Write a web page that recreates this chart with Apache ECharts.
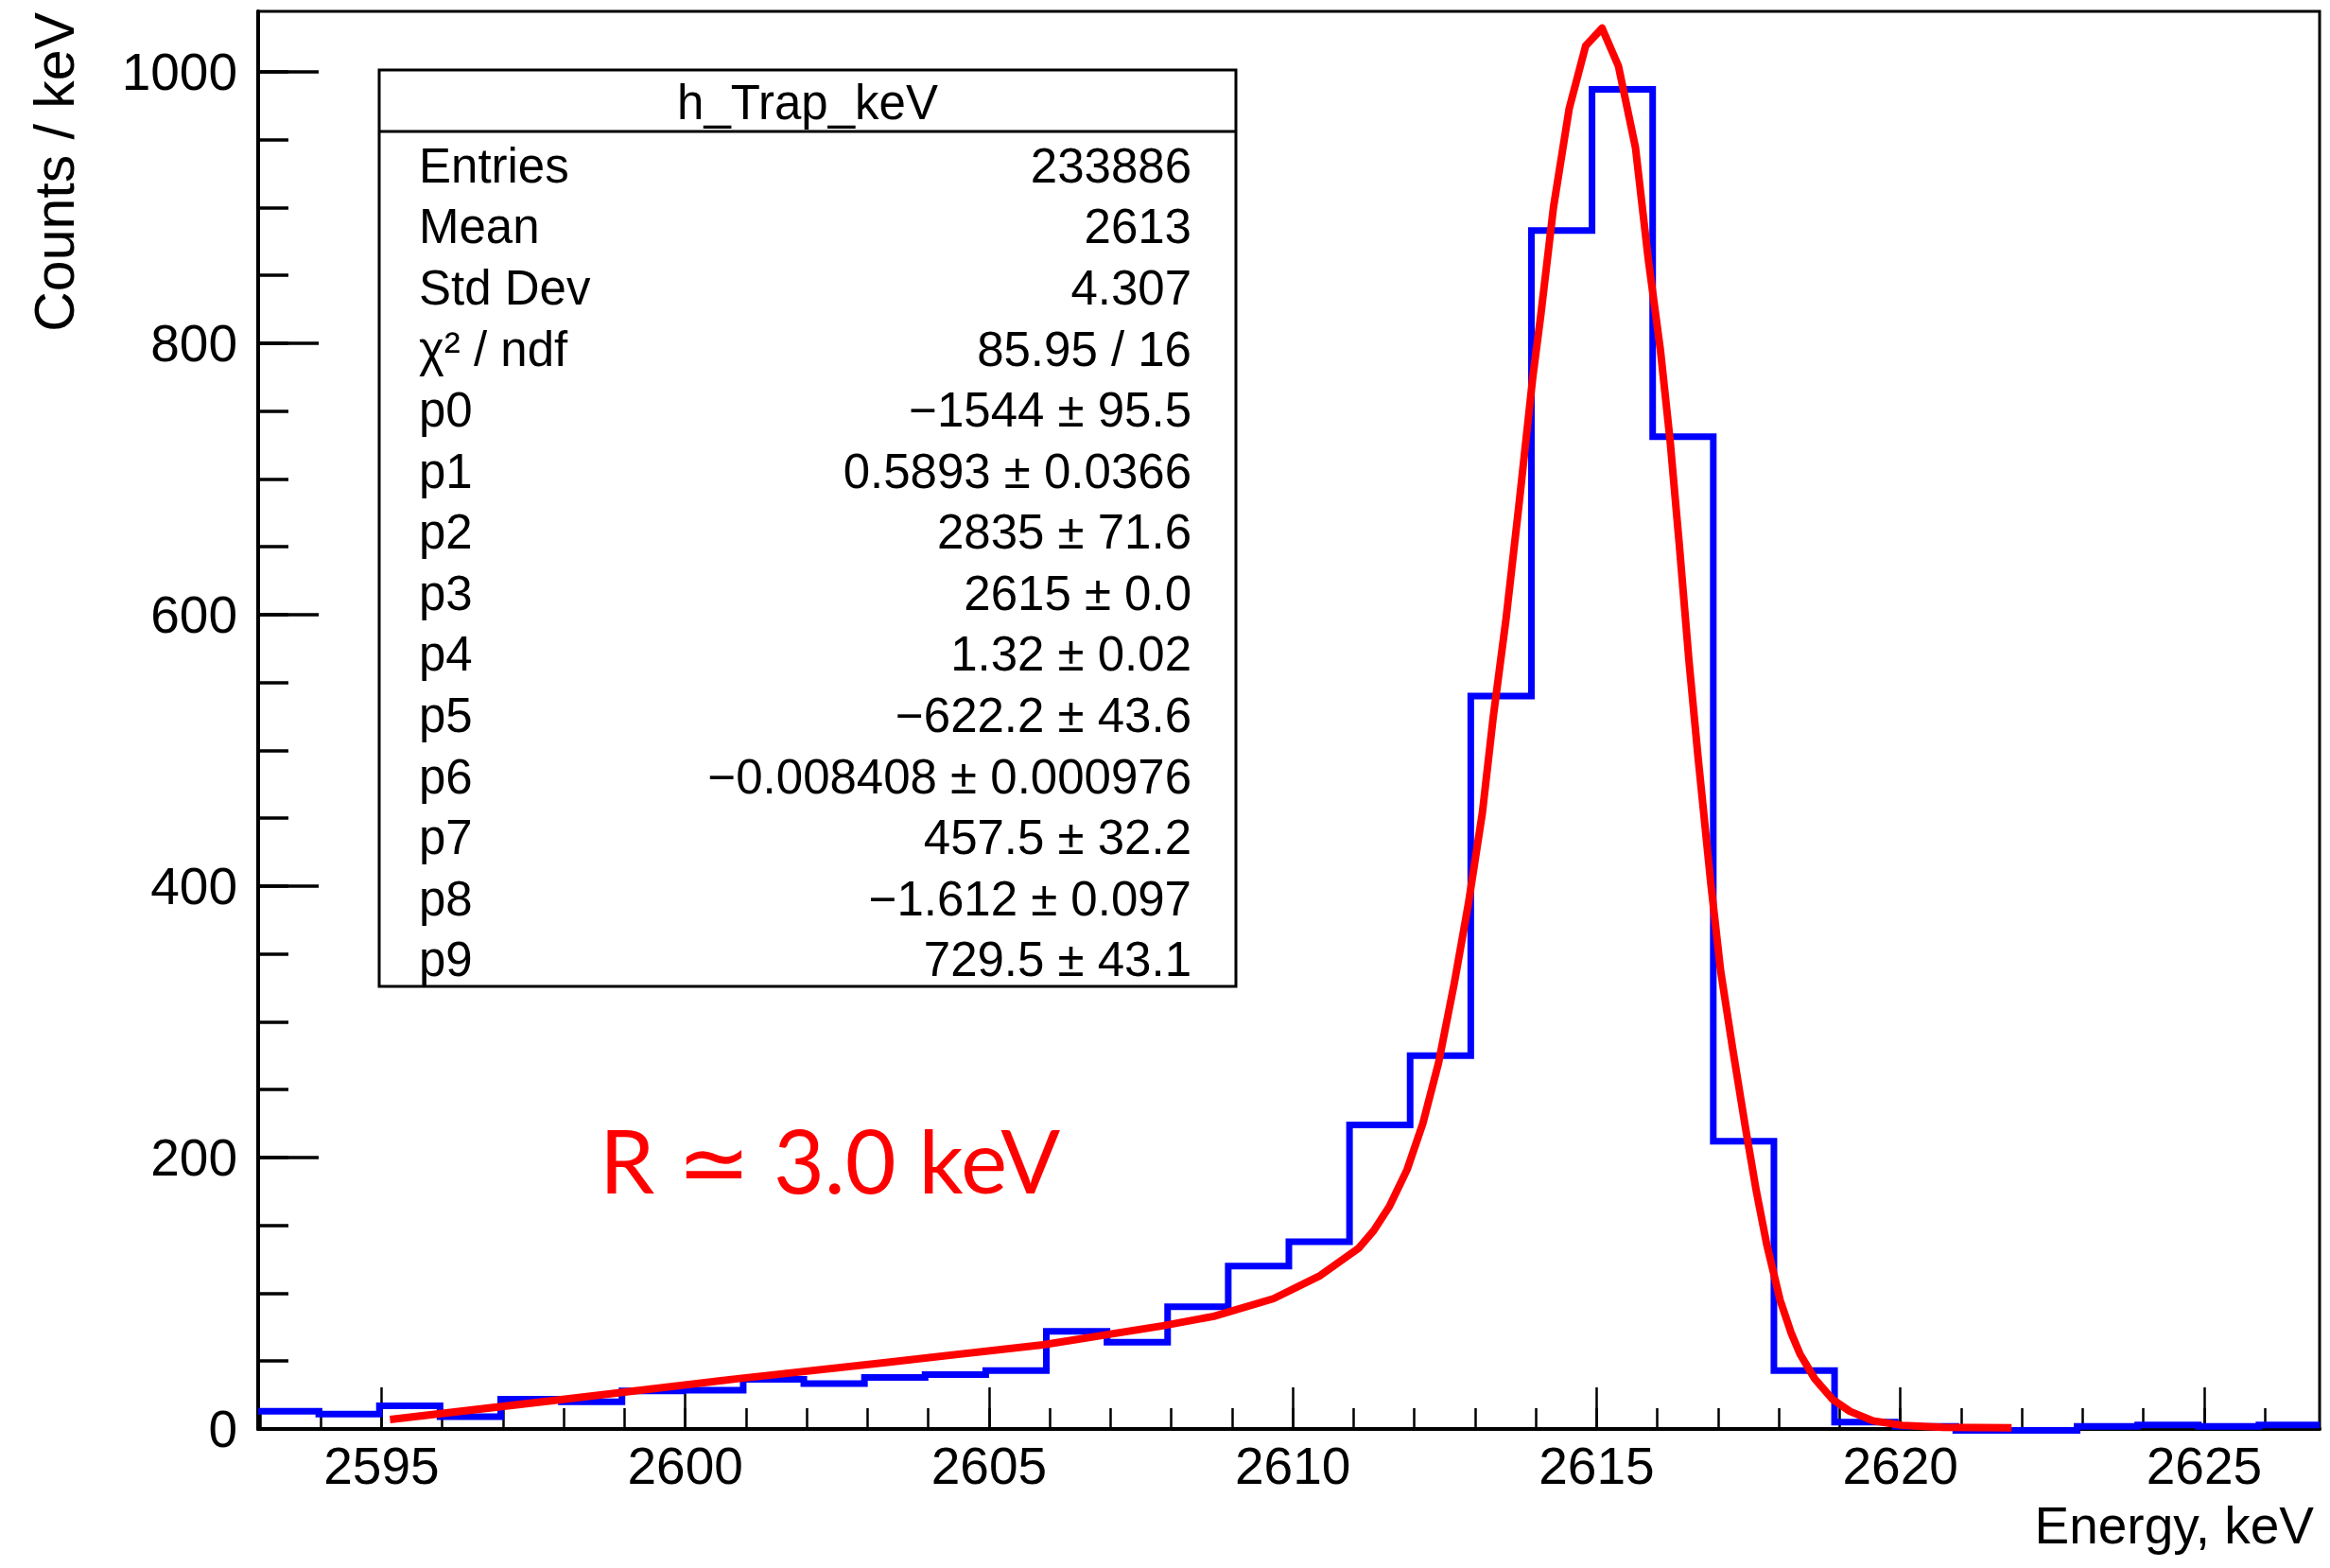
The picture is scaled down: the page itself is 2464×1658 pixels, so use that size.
<!DOCTYPE html>
<html>
<head>
<meta charset="utf-8">
<script src="https://cdn.jsdelivr.net/npm/echarts/dist/echarts.min.js"></script>
<style>
html,body{margin:0;padding:0;background:#fff;}
#chart{width:2464px;height:1658px;}
</style>
</head>
<body>
<div id="chart"></div>
<script>
// ---- data ----
const xRange = [2592.97, 2626.9];          // histogram / axis range, keV
const yRange = [0, 1044.4];                 // counts / keV
const binValues = [13, 11, 17, 9, 22, 20, 28, 28.5, 36.5, 33.5, 38, 40, 43, 72, 64, 90, 120, 138,
                   224, 275, 540, 883, 987, 731, 212, 43, 5, 2, -1, -1, 2, 3, 2, 3];
const fitX = [2595.14, 2597.95, 2600.86, 2603.3, 2605.89, 2607.86, 2608.7, 2609.68, 2610.45, 2611.08,
              2611.33, 2611.59, 2611.88, 2612.14, 2612.4, 2612.66, 2612.89, 2613.12, 2613.3, 2613.51,
              2613.72, 2613.95, 2614.08, 2614.29, 2614.55, 2614.82, 2615.09, 2615.36, 2615.64, 2615.85,
              2616.05, 2616.21, 2616.36, 2616.52, 2616.67, 2616.88, 2617.04, 2617.24, 2617.45, 2617.63,
              2617.8, 2618.02, 2618.2, 2618.35, 2618.59, 2618.88, 2619.17, 2619.55, 2620.03, 2620.7, 2621.83];
const fitY = [7, 21.6, 37, 49, 62, 76, 83, 96, 113, 133,
              146, 164, 191, 225, 270, 329, 387, 454, 525, 597,
              680, 775, 820, 900, 973, 1019, 1032, 1004, 944, 862,
              795, 728, 652, 566, 495, 402, 338, 280, 222, 175,
              136, 95, 71, 55, 37, 22, 13, 6, 2.7, 1.2, 0.8];
const xMajorTicks = [2595, 2600, 2605, 2610, 2615, 2620, 2625];
const xMinorTicks = [2593,2594,2595,2596,2597,2598,2599,2600,2601,2602,2603,2604,2605,2606,2607,2608,2609,
                     2610,2611,2612,2613,2614,2615,2616,2617,2618,2619,2620,2621,2622,2623,2624,2625,2626];
const yMajorTicks = [0, 200, 400, 600, 800, 1000];
const yMinorTicks = [0,50,100,150,200,250,300,350,400,450,500,550,600,650,700,750,800,850,900,950,1000];
const statsTitle = 'h_Trap_keV';
const statLabels = ['Entries','Mean','Std Dev','\u03c7\u00b2 / ndf','p0','p1','p2','p3','p4','p5','p6','p7','p8','p9'];
const statValues = ['233886','2613','4.307','85.95 / 16','\u22121544 \u00b1 95.5','0.5893 \u00b1 0.0366',
                    '2835 \u00b1 71.6','2615 \u00b1 0.0','1.32 \u00b1 0.02','\u2212622.2 \u00b1 43.6',
                    '\u22120.008408 \u00b1 0.000976','457.5 \u00b1 32.2','\u22121.612 \u00b1 0.097','729.5 \u00b1 43.1'];
const xTitle = 'Energy, keV';
const yTitle = 'Counts / keV';
const note = 'R \u2243 3.0 keV';

// ---- build series data ----
const nBins = binValues.length;
const binW = (xRange[1] - xRange[0]) / nBins;
const histData = binValues.map((v, i) => [xRange[0] + i * binW, v]);
histData.push([xRange[1], binValues[nBins - 1]]);
const fitData = fitX.map((x, i) => [x, fitY[i]]);

const FONT = "'Liberation Sans', Arial, Helvetica, sans-serif";
const fmt = v => String(v);

// stats box geometry
const box = {x: 401, y: 74, w: 906, h: 969, titleH: 65};
const rowH = (box.h - box.titleH) / statLabels.length;
const graphics = [];
graphics.push({type:'rect', z:10, shape:{x:box.x, y:box.y, width:box.w, height:box.h},
  style:{fill:'#fff', stroke:'#000', lineWidth:3}});
graphics.push({type:'line', z:11, shape:{x1:box.x, y1:box.y+box.titleH, x2:box.x+box.w, y2:box.y+box.titleH},
  style:{stroke:'#000', lineWidth:3}});
graphics.push({type:'text', z:11, x: box.x + box.w/2, y: box.y + box.titleH/2 + 2,
  style:{text:statsTitle, font:'51px ' + FONT, fill:'#000', align:'center', verticalAlign:'middle'}});
statLabels.forEach((lab, i) => {
  const yc = box.y + box.titleH + rowH * (i + 0.5) + 4;
  graphics.push({type:'text', z:11, x: box.x + 42, y: yc,
    style:{text:lab, font:'51px ' + FONT, fill:'#000', align:'left', verticalAlign:'middle'}});
  graphics.push({type:'text', z:11, x: box.x + box.w - 47, y: yc,
    style:{text:statValues[i], font:'51px ' + FONT, fill:'#000', align:'right', verticalAlign:'middle'}});
});
graphics.push({type:'text', z:11, x: 634, y: 1226,
  style:{text:note, font:"93px Lato, 'Open Sans', sans-serif", fill:'#ff0000', align:'left', verticalAlign:'middle'}});
graphics.push({type:'text', z:11, x: 2447, y: 1613,
  style:{text:xTitle, font:'55px ' + FONT, fill:'#000', align:'right', verticalAlign:'middle'}});
graphics.push({type:'text', z:11, x: 58, y: 13, rotation: Math.PI/2,
  style:{text:yTitle, font:'59px ' + FONT, fill:'#000', align:'right', verticalAlign:'middle'}});

const chart = echarts.init(document.getElementById('chart'), null, {renderer:'svg', width:2464, height:1658});
const axisLineStyle = {color:'#000', width:4};
chart.setOption({
  animation: false,
  backgroundColor: '#fff',
  grid: {left: 273, right: 11, top: 12, bottom: 147, show: true, borderColor: '#000', borderWidth: 3, backgroundColor: 'transparent'},
  xAxis: [
    {type:'value', min:xRange[0], max:xRange[1], position:'bottom',
     axisLine:{show:true, onZero:false, lineStyle:axisLineStyle},
     axisTick:{show:true, inside:true, length:44, customValues:xMajorTicks, lineStyle:{color:'#000', width:2.5}},
     axisLabel:{show:true, customValues:xMajorTicks, formatter:fmt, margin:11, fontSize:55, fontFamily:FONT, color:'#000'},
     splitLine:{show:false}},
    {type:'value', min:xRange[0], max:xRange[1], position:'bottom',
     axisLine:{show:false},
     axisTick:{show:true, inside:true, length:22, customValues:xMinorTicks, lineStyle:{color:'#000', width:2.5}},
     axisLabel:{show:false}, splitLine:{show:false}}
  ],
  yAxis: [
    {type:'value', min:yRange[0], max:yRange[1], position:'left',
     axisLine:{show:true, onZero:false, lineStyle:axisLineStyle},
     axisTick:{show:true, inside:true, length:64, customValues:yMajorTicks, lineStyle:{color:'#000', width:3.5}},
     axisLabel:{show:true, customValues:yMajorTicks, formatter:fmt, margin:22, fontSize:55, fontFamily:FONT, color:'#000'},
     splitLine:{show:false}},
    {type:'value', min:yRange[0], max:yRange[1], position:'left',
     axisLine:{show:false},
     axisTick:{show:true, inside:true, length:32, customValues:yMinorTicks, lineStyle:{color:'#000', width:3.5}},
     axisLabel:{show:false}, splitLine:{show:false}}
  ],
  series: [
    {name:'h_Trap_keV', type:'line', xAxisIndex:0, yAxisIndex:0, data:histData, step:'end', symbol:'none',
     clip:false, z:3, lineStyle:{color:'#0000ff', width:7, join:'miter', cap:'butt'}},
    {name:'fit', type:'line', xAxisIndex:0, yAxisIndex:0, data:fitData, symbol:'none', smooth:false,
     clip:false, z:4, lineStyle:{color:'#ff0000', width:8, join:'round', cap:'butt'}}
  ],
  graphic: graphics
});
</script>
</body>
</html>
